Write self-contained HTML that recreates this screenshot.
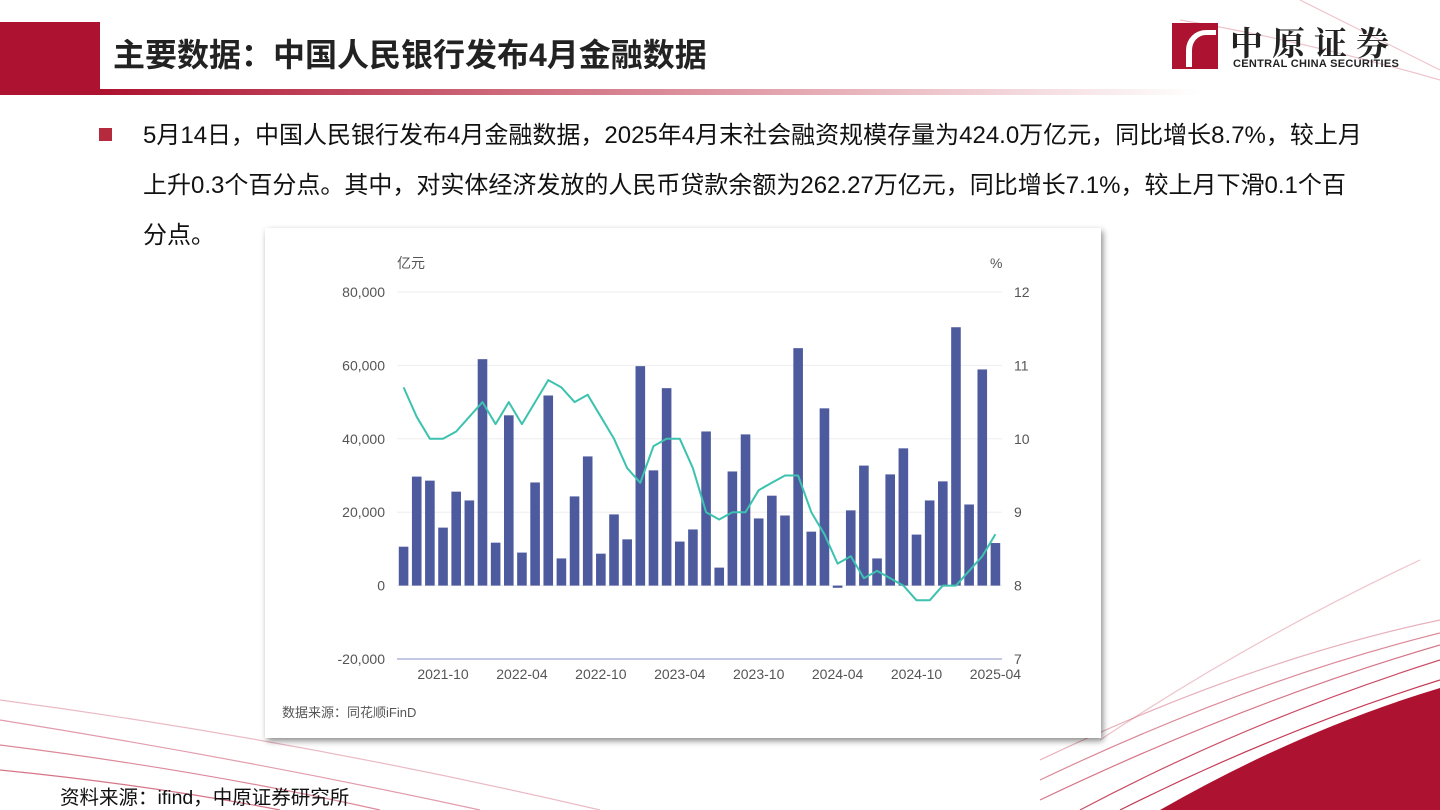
<!DOCTYPE html>
<html><head><meta charset="utf-8">
<style>
body{margin:0;width:1440px;height:810px;overflow:hidden;background:#fff;font-family:"Liberation Sans","Noto Sans CJK SC",sans-serif;position:relative}
.abs{position:absolute}
</style></head><body>
<svg class="abs" style="left:0;top:0" width="1440" height="810">
<defs><linearGradient id="ul" x1="0" x2="1"><stop offset="0" stop-color="#ad1230"/><stop offset="0.6" stop-color="#e2a0aa"/><stop offset="1" stop-color="#fff"/></linearGradient></defs>
<rect x="0" y="22" width="100" height="73" fill="#ad1230"/>
<rect x="100" y="89" width="1100" height="6" fill="url(#ul)"/>
<g fill="none" stroke="#c43a55" stroke-width="1.2">
<path d="M1040 760 Q1250 660 1440 620" opacity="0.4"/>
<path d="M1040 780 Q1250 680 1440 633" opacity="0.6"/>
<path d="M1040 800 Q1250 700 1440 645" opacity="0.7"/>
<path d="M1080 810 Q1250 720 1440 660" opacity="0.9"/>
<path d="M1120 810 Q1280 730 1440 680"/>
<path d="M1100 740 Q1250 640 1420 560" opacity="0.3"/>
<path d="M0 700 Q300 740 600 810" opacity="0.35"/>
<path d="M0 720 Q250 760 480 810" opacity="0.5"/>
<path d="M0 745 Q200 770 380 810" opacity="0.6"/>
<path d="M0 770 Q150 785 280 810" opacity="0.7"/>
<path d="M1180 20 Q1300 40 1440 80" opacity="0.3"/>
<path d="M1300 0 Q1380 40 1440 70" opacity="0.3"/>
</g>
<path d="M1160 810 Q1300 730 1440 688 L1440 810 Z" fill="#ad1230"/>
</svg>
<div class="abs" style="left:113px;top:30px;font-size:32px;font-weight:bold;color:#222">主要数据：中国人民银行发布4月金融数据</div>
<div class="abs" style="left:1172px;top:22px;width:240px;height:50px">
<div style="position:absolute;left:0;top:1px;width:46px;height:46px;background:#ad1230"></div>
<div style="position:absolute;left:14px;top:8px;width:24px;height:32px;border-left:6px solid #fff;border-top:5px solid #fff;border-radius:20px 0 0 0"></div>
<div style="position:absolute;left:58px;top:-4px;font-size:33px;letter-spacing:9px;color:#222;font-family:'Noto Serif CJK SC',serif;font-weight:bold">中原证券</div>
<div style="position:absolute;left:61px;top:36px;font-size:11px;font-weight:bold;color:#222;letter-spacing:0.3px">CENTRAL CHINA SECURITIES</div>
</div>
<div class="abs" style="left:99px;top:128px;width:13px;height:13px;background:#b52a3c"></div>
<div class="abs" style="left:143px;top:111px;width:1280px;font-size:24px;line-height:50px;color:#111;white-space:nowrap">5月14日，中国人民银行发布4月金融数据，2025年4月末社会融资规模存量为424.0万亿元，同比增长8.7%，较上月<br>上升0.3个百分点。其中，对实体经济发放的人民币贷款余额为262.27万亿元，同比增长7.1%，较上月下滑0.1个百<br>分点。</div>
<div class="abs" style="left:265px;top:228px;width:836px;height:510px;background:#fff;box-shadow:2px 3px 6px rgba(0,0,0,0.45)"></div>
<svg id="chart" class="abs" style="left:0;top:0" width="1440" height="810"></svg>
<div class="abs" style="left:282px;top:702px;font-size:13px;color:#555">数据来源：同花顺iFinD</div>
<div class="abs" style="left:60px;top:781px;font-size:19.5px;color:#111">资料来源：ifind，中原证券研究所</div>
<script>
const months=["2021-07","2021-08","2021-09","2021-10","2021-11","2021-12","2022-01","2022-02","2022-03","2022-04","2022-05","2022-06","2022-07","2022-08","2022-09","2022-10","2022-11","2022-12","2023-01","2023-02","2023-03","2023-04","2023-05","2023-06","2023-07","2023-08","2023-09","2023-10","2023-11","2023-12","2024-01","2024-02","2024-03","2024-04","2024-05","2024-06","2024-07","2024-08","2024-09","2024-10","2024-11","2024-12","2025-01","2025-02","2025-03","2025-04"];
const flowValues=[10600,29700,28600,15800,25600,23200,61700,11700,46400,9000,28100,51800,7400,24300,35200,8700,19400,12600,59800,31400,53800,12000,15300,42000,4900,31100,41200,18300,24500,19100,64700,14700,48300,-600,20500,32700,7400,30300,37400,13900,23200,28400,70400,22100,58900,11600];
const growthValues=[10.7,10.3,10.0,10.0,10.1,10.3,10.5,10.2,10.5,10.2,10.5,10.8,10.7,10.5,10.6,10.3,10.0,9.6,9.4,9.9,10.0,10.0,9.6,9.0,8.9,9.0,9.0,9.3,9.4,9.5,9.5,9.0,8.7,8.3,8.4,8.1,8.2,8.1,8.0,7.8,7.8,8.0,8.0,8.2,8.4,8.7];
const leftTicks=[-20000,0,20000,40000,60000,80000];
const leftTickLabels=["-20,000","0","20,000","40,000","60,000","80,000"];
const rightTicks=[7,8,9,10,11,12];
const xTickLabels=["2021-10","2022-04","2022-10","2023-04","2023-10","2024-04","2024-10","2025-04"];
const svg=document.getElementById('chart');
const NS='http://www.w3.org/2000/svg';
const x0=397,x1=1002,yTop=292,yBot=659;
const step=(x1-x0)/months.length;
const xs=i=>x0+step*(i+0.5);
const yL=v=>yBot-(v-(-20000))/(100000)*(yBot-yTop);
const yR=v=>yBot-(v-7)/5*(yBot-yTop);
function mk(t,a){const e=document.createElementNS(NS,t);for(const k in a)e.setAttribute(k,a[k]);svg.appendChild(e);return e;}
leftTicks.forEach((v,i)=>{
 if(v!==-20000){const g=mk('line',{x1:x0,x2:x1,y1:yL(v),y2:yL(v),stroke:'#eeeeee','stroke-width':1});
 
 }
 const t=mk('text',{x:385,y:yL(v)+5,'text-anchor':'end','font-size':14,fill:'#555','font-family':'Liberation Sans, sans-serif'});
 t.textContent=leftTickLabels[i];
 
 
});
rightTicks.forEach(v=>{
 const t=mk('text',{x:1014,y:yR(v)+5,'font-size':14,fill:'#555','font-family':'Liberation Sans, sans-serif'});
 t.textContent=v;
 
 
});
const ax=mk('line',{x1:x0,x2:x1,y1:yBot,y2:yBot,stroke:'#8a92c6','stroke-width':1});


const ul=mk('text',{x:397,y:268,'font-size':14,fill:'#555','font-family':'Liberation Sans, Noto Sans CJK SC, sans-serif'});ul.textContent='亿元';


const ur=mk('text',{x:990,y:268,'font-size':14,fill:'#555','font-family':'Liberation Sans, sans-serif'});ur.textContent='%';


flowValues.forEach((v,i)=>{
 const y=Math.min(yL(v),yL(0)),h=Math.max(Math.abs(yL(v)-yL(0)),1.5);
 const b=mk('rect',{x:xs(i)-4.8,y:y,width:9.6,height:h,fill:'#4e5a9e'});
 
 
});
const pts=growthValues.map((v,i)=>xs(i).toFixed(1)+','+yR(v).toFixed(1)).join(' ');
const ln=mk('polyline',{points:pts,fill:'none',stroke:'#3cc2ae','stroke-width':2,'stroke-linejoin':'round'});


xTickLabels.forEach(lbl=>{
 const i=months.indexOf(lbl);
 const t=mk('text',{x:xs(i),y:679,'text-anchor':'middle','font-size':14,fill:'#555','font-family':'Liberation Sans, sans-serif'});
 t.textContent=lbl;
 
 
});
</script>
</body></html>
